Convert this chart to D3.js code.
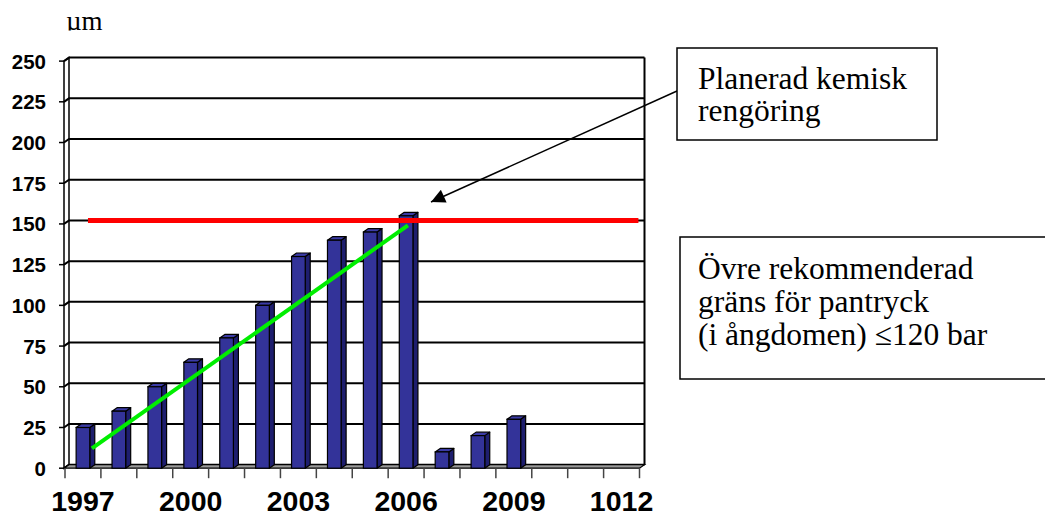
<!DOCTYPE html>
<html>
<head>
<meta charset="utf-8">
<script src="https://cdn.jsdelivr.net/npm/d3@7"></script>
<style>
  html, body { margin: 0; padding: 0; background: #fff; }
  svg { display: block; }
</style>
</head>
<body>
<svg id="chart" width="1045" height="518"></svg>
<script>
// ---------- data ----------
const categories = ["1997","1998","1999","2000","2001","2002","2003","2004","2005","2006","2007","2008","2009","2010","2011","2012"];
const values = [25, 35, 50, 65, 80, 100, 130, 140, 145, 155, 10, 20, 30, null, null, null];
const xTickLabels = ["1997", "", "", "2000", "", "", "2003", "", "", "2006", "", "", "2009", "", "", "1012"];
const yTicks = [0, 25, 50, 75, 100, 125, 150, 175, 200, 225, 250];
const unitLabel = "µm";
// trend line: [category position (index), value]
const trendStart = [0.75, 10];
const trendEnd = [9.55, 147];
// recommended limit line
const limitValue = 150;
const limitFrom = 0.64, limitTo = 15.97;
const note1Lines = ["Planerad kemisk", "rengöring"];
const note2Lines = ["Övre rekommenderad", "gräns för pantryck", "(i ångdomen) \u2264120 bar"];

// ---------- layout ----------
const svg = d3.select("#chart");
const DX = 5, DY = -3.5;           // 3D depth offset
const xLeft = 65, xRight = 639.5;
const yFront = d3.scaleLinear().domain([0, 250]).range([468.2, 61.1]);
const yBack = v => yFront(v) + DY;
const xBand = d3.scaleBand().domain(categories).range([xLeft, xRight]).paddingInner(0).paddingOuter(0);
const xPos = d3.scaleLinear().domain([0, categories.length]).range([xLeft, xRight]);
const bw = xBand.bandwidth();

const sansFont = "'Liberation Sans', Arial, sans-serif";
const serifFont = "'Liberation Serif', 'Times New Roman', serif";

// unit label (clipped like the original)
svg.append("clipPath").attr("id", "unitClip")
  .append("rect").attr("x", 0).attr("y", 17).attr("width", 200).attr("height", 13.5);
svg.append("text")
  .attr("clip-path", "url(#unitClip)")
  .attr("x", 66).attr("y", 30)
  .attr("font-family", serifFont).attr("font-size", 27)
  .attr("fill", "#000")
  .text(unitLabel);

const g = svg.append("g");
// left wall polygon
g.append("path")
  .attr("d", `M${xLeft - 1},${yFront(0)} L${xLeft - 1},${yFront(250)} L${xLeft - 1 + DX},${yBack(250)} L${xLeft - 1 + DX},${yBack(0)} Z`)
  .attr("fill", "#fff").attr("stroke", "#000").attr("stroke-width", 1.5);

// gridlines
g.selectAll("path.grid").data(yTicks).join("path")
  .attr("class", "grid")
  .attr("d", d => `M${xLeft - 1},${yFront(d)} L${xLeft - 1 + DX},${yBack(d)} L${xRight + DX},${yBack(d)}`)
  .attr("fill", "none").attr("stroke", "#000").attr("stroke-width", 2);

// right wall line
g.append("line")
  .attr("x1", xRight + DX).attr("x2", xRight + DX)
  .attr("y1", yBack(250)).attr("y2", yBack(0))
  .attr("stroke", "#000").attr("stroke-width", 2);

// floor
g.append("path")
  .attr("d", `M${xLeft - 1},${yFront(0)} L${xRight},${yFront(0)} L${xRight + DX},${yBack(0)} L${xLeft - 1 + DX},${yBack(0)} Z`)
  .attr("fill", "#9a9a9a").attr("stroke", "#000").attr("stroke-width", 1.2);

// y axis ticks + labels
g.selectAll("line.ytick").data(yTicks).join("line")
  .attr("class", "ytick")
  .attr("x1", xLeft - 6).attr("x2", xLeft - 1)
  .attr("y1", d => yFront(d)).attr("y2", d => yFront(d))
  .attr("stroke", "#000").attr("stroke-width", 1.5);
g.selectAll("text.ylab").data(yTicks).join("text")
  .attr("class", "ylab")
  .attr("x", 46).attr("y", d => yFront(d) + 7.5)
  .attr("text-anchor", "end")
  .attr("font-family", sansFont).attr("font-weight", "bold").attr("font-size", 20.5)
  .text(d => d);

// x axis ticks
const xBoundaries = d3.range(categories.length + 1);
g.selectAll("line.xtick").data(xBoundaries).join("line")
  .attr("class", "xtick")
  .attr("x1", d => xPos(d)).attr("x2", d => xPos(d))
  .attr("y1", yFront(0)).attr("y2", yFront(0) + 10)
  .attr("stroke", "#444").attr("stroke-width", 1.5);

// x labels
g.selectAll("text.xlab").data(categories).join("text")
  .attr("class", "xlab")
  .attr("x", d => xBand(d) + bw / 2)
  .attr("y", 511)
  .attr("text-anchor", "middle")
  .attr("font-family", sansFont).attr("font-weight", "bold").attr("font-size", 28.5)
  .text((d, i) => xTickLabels[i]);

// bars (3D)
const barData = categories.map((c, i) => ({ c, v: values[i] })).filter(d => d.v != null);
const barW = bw * 0.38, barOff = bw * 0.31;
const bars = g.selectAll("g.bar").data(barData).join("g").attr("class", "bar");
bars.append("path") // side
  .attr("d", d => {
    const x = xBand(d.c) + barOff + barW, yt = yFront(d.v), yb = yFront(0);
    return `M${x},${yt} L${x + DX},${yt + DY} L${x + DX},${yb + DY} L${x},${yb} Z`;
  })
  .attr("fill", "#1e1e6e").attr("stroke", "#000").attr("stroke-width", 1.2).attr("stroke-linejoin", "round");
bars.append("path") // top
  .attr("d", d => {
    const x = xBand(d.c) + barOff, yt = yFront(d.v);
    return `M${x},${yt} L${x + DX},${yt + DY} L${x + barW + DX},${yt + DY} L${x + barW},${yt} Z`;
  })
  .attr("fill", "#3b3ba6").attr("stroke", "#000").attr("stroke-width", 1.2).attr("stroke-linejoin", "round");
bars.append("rect") // front
  .attr("x", d => xBand(d.c) + barOff)
  .attr("y", d => yFront(d.v))
  .attr("width", barW)
  .attr("height", d => yFront(0) - yFront(d.v))
  .attr("fill", "#333399").attr("stroke", "#000").attr("stroke-width", 1.2);

// limit line (red)
g.append("line")
  .attr("x1", xPos(limitFrom)).attr("x2", xPos(limitTo))
  .attr("y1", yBack(limitValue)).attr("y2", yBack(limitValue))
  .attr("stroke", "#ff0000").attr("stroke-width", 5);

// trend line (green)
g.append("line")
  .attr("x1", xPos(trendStart[0])).attr("y1", yBack(trendStart[1]))
  .attr("x2", xPos(trendEnd[0])).attr("y2", yBack(trendEnd[1]))
  .attr("stroke", "#00ee00").attr("stroke-width", 4);

// annotation 1 box + arrow
svg.append("defs").append("marker")
  .attr("id", "arrowHead").attr("viewBox", "0 0 10 10")
  .attr("refX", 10).attr("refY", 5)
  .attr("markerWidth", 18).attr("markerHeight", 14)
  .attr("markerUnits", "userSpaceOnUse")
  .attr("orient", "auto")
  .append("path").attr("d", "M0,0 L10,5 L0,10 Z").attr("fill", "#000");

svg.append("line")
  .attr("x1", 677).attr("y1", 91).attr("x2", 431).attr("y2", 202)
  .attr("stroke", "#000").attr("stroke-width", 1.5)
  .attr("marker-end", "url(#arrowHead)");

svg.append("rect")
  .attr("x", 677).attr("y", 48).attr("width", 260).attr("height", 92)
  .attr("fill", "#fff").attr("stroke", "#000").attr("stroke-width", 1.5);
svg.append("g").selectAll("text").data(note1Lines).join("text")
  .attr("x", 698).attr("y", (d, i) => 89 + i * 32)
  .attr("font-family", serifFont).attr("font-size", 31.5)
  .text(d => d);

// annotation 2 box
svg.append("rect")
  .attr("x", 680).attr("y", 237).attr("width", 400).attr("height", 142)
  .attr("fill", "#fff").attr("stroke", "#000").attr("stroke-width", 1.5);
svg.append("g").selectAll("text").data(note2Lines).join("text")
  .attr("x", 698).attr("y", (d, i) => 279 + i * 33)
  .attr("font-family", serifFont).attr("font-size", 31.5)
  .text(d => d);
</script>
</body>
</html>
